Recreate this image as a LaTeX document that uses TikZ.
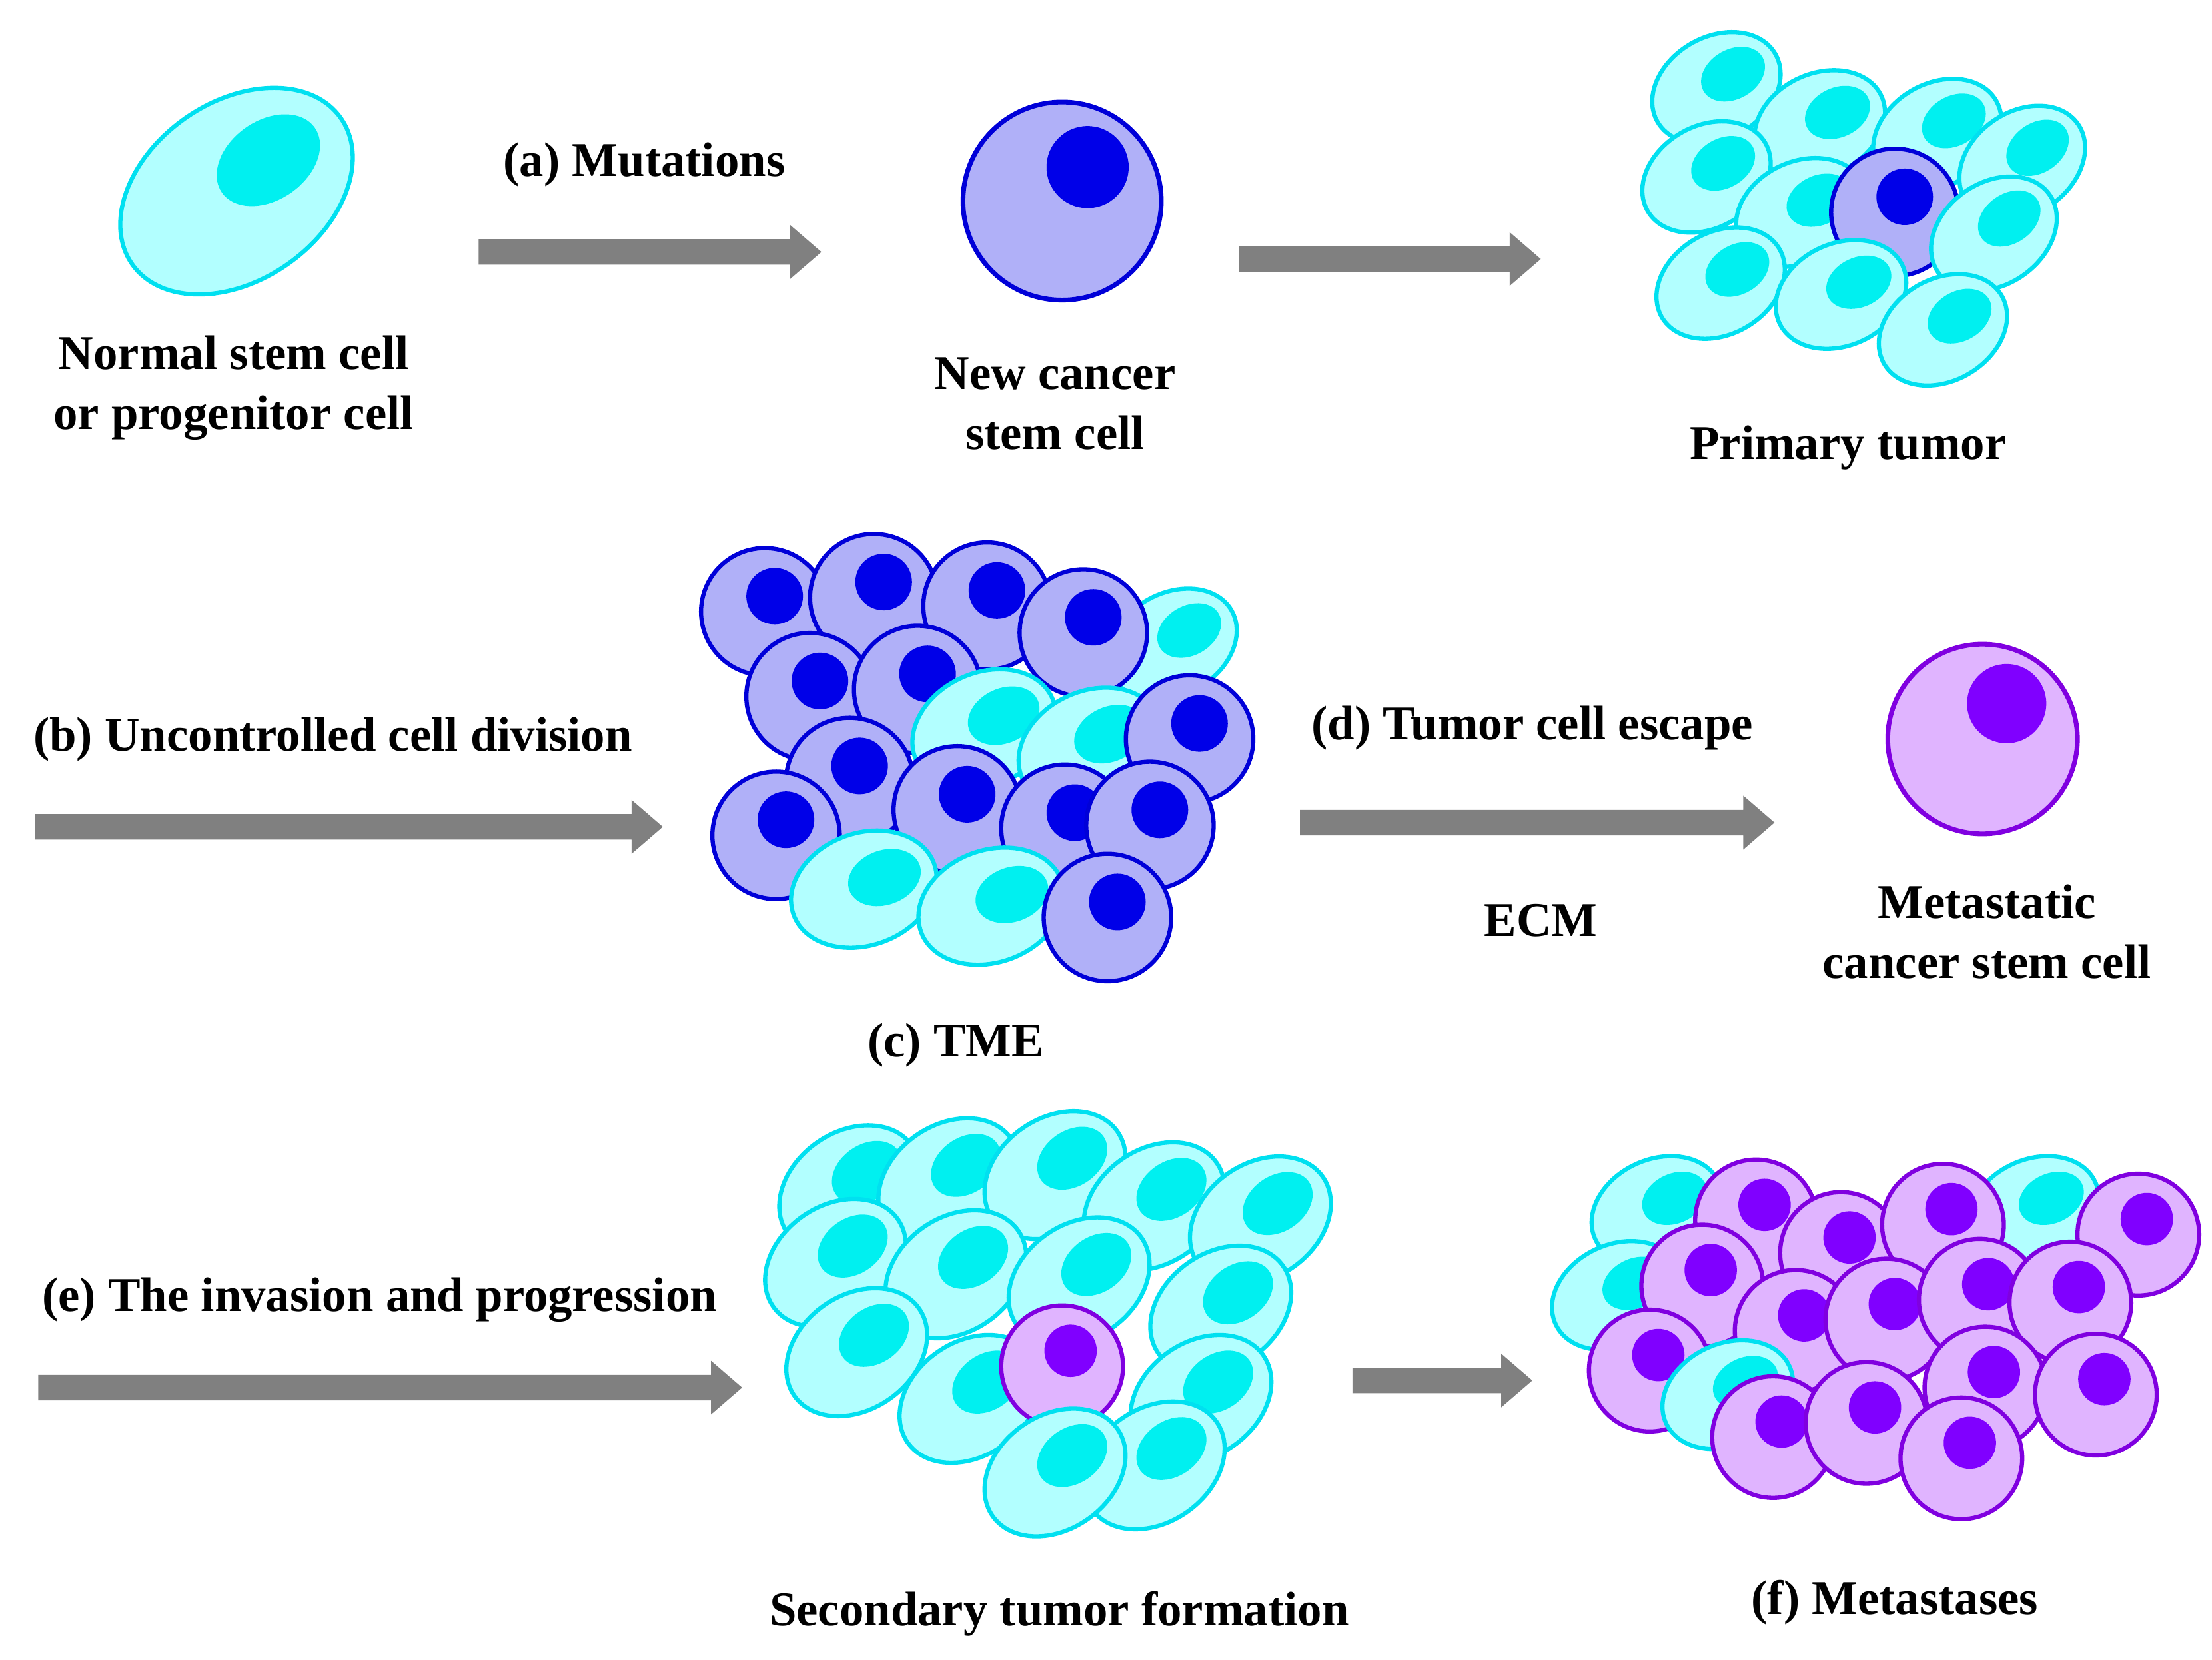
\documentclass[tikz,border=0pt]{standalone}
\usepackage{fontspec}
\setmainfont{Liberation Serif}
\definecolor{cfill}{HTML}{B2FFFF}\definecolor{cline}{HTML}{00E0F0}\definecolor{cnuc}{HTML}{00F0F0}
\definecolor{bfill}{HTML}{B0B0F8}\definecolor{bline}{HTML}{0000D8}\definecolor{bnuc}{HTML}{0000E8}
\definecolor{pfill}{HTML}{E0B4FF}\definecolor{pline}{HTML}{8000E0}\definecolor{pnuc}{HTML}{8000FF}
\definecolor{arr}{HTML}{808080}
\newcommand{\ccell}[4][1]{\begin{scope}[shift={(#2,#3)},rotate=#4,scale=#1]
 \draw[line width=1.7pt,draw=cline,fill=cfill] (0,0) ellipse [x radius=0.96cm,y radius=0.72cm];
 \fill[cnuc] (0.3cm,0.05cm) ellipse [x radius=0.48cm,y radius=0.35cm];\end{scope}}
\newcommand{\bcell}[2]{\begin{scope}[shift={(#1,#2)}]
 \draw[line width=1.7pt,draw=bline,fill=bfill] (0,0) circle (0.9cm);
 \fill[bnuc] (0.14cm,0.22cm) circle (0.4cm);\end{scope}}
\newcommand{\pcell}[2]{\begin{scope}[shift={(#1,#2)}]
 \draw[line width=1.7pt,draw=pline,fill=pfill] (0,0) circle (0.86cm);
 \fill[pnuc] (0.12cm,0.22cm) circle (0.37cm);\end{scope}}
\newcommand{\garrow}[3]{\fill[arr] (#1,#3-9) -- (#2-22,#3-9) -- (#2-22,#3-19) -- (#2,#3) -- (#2-22,#3+19) -- (#2-22,#3+9) -- (#1,#3+9) -- cycle;}
\tikzset{lbl/.style={font=\fontsize{19.5}{24}\selectfont\bfseries,align=center}}
\begin{document}
\begin{tikzpicture}[x=0.02cm,y=-0.02cm]
\useasboundingbox[fill=white] (0,0) rectangle (1562,1172);
% row 1
\begin{scope}[shift={(167,135)},rotate=35]
 \draw[line width=1.7pt,draw=cline,fill=cfill] (0,0) ellipse [x radius=1.8cm,y radius=1.26cm];
 \fill[cnuc] (0.62cm,0.1cm) ellipse [x radius=0.8cm,y radius=0.56cm];\end{scope}
\node[lbl] (t1) at (165,274) {Normal stem cell\\or progenitor cell};
\node[lbl] (ta) at (455,116) {(a) Mutations};
\garrow{338}{580}{178}
\draw[line width=1.9pt,draw=bline,fill=bfill] (750,142) circle (1.4cm);
\fill[bnuc] (768,118) circle (0.58cm);
\node[lbl] (t2) at (745,285) {New cancer\\stem cell};
\garrow{875}{1088}{183}
\ccell{1212}{62}{30}\ccell{1285}{88}{25}\ccell{1368}{95}{30}\ccell{1428}{115}{35}
\ccell{1205}{125}{30}\ccell{1272}{150}{25}
\bcell{1338}{150}
\ccell{1408}{165}{35}\ccell{1215}{200}{30}\ccell{1300}{208}{25}\ccell{1372}{233}{30}
\node[lbl] (t3) at (1305,316) {Primary tumor};
% row 2
\node[lbl] (tb) at (235,522) {(b) Uncontrolled cell division};
\garrow{25}{468}{584}
\ccell{828}{455}{30}
\bcell{540}{432}\bcell{617}{422}\bcell{697}{428}\bcell{765}{447}
\bcell{572}{492}\bcell{648}{487}
\ccell[1.1]{695}{515}{25}\ccell[1.1]{770}{528}{25}\bcell{840}{522}
\bcell{600}{552}\bcell{548}{590}\bcell{676}{572}\bcell{752}{585}\bcell{812}{583}
\ccell[1.1]{610}{628}{20}\ccell[1.1]{700}{640}{20}\bcell{782}{648}
\node[lbl] (tc) at (675,738) {(c) TME};
\node[lbl] (td) at (1082,514) {(d) Tumor cell escape};
\garrow{918}{1253}{581}
\node[lbl] (te2) at (1088,650) {ECM};
\draw[line width=1.9pt,draw=pline,fill=pfill] (1400,522) circle (1.34cm);
\fill[pnuc] (1417,497) circle (0.56cm);
\node[lbl] (t4) at (1403,658) {Metastatic\\cancer stem cell};
% row 3
\node[lbl] (te) at (268,918) {(e) The invasion and progression};
\garrow{27}{524}{980}
\ccell[1.12]{600}{840}{35}\ccell[1.12]{670}{835}{35}\ccell[1.12]{745}{830}{35}\ccell[1.12]{815}{852}{35}\ccell[1.12]{890}{862}{35}
\ccell[1.12]{590}{892}{35}\ccell[1.12]{675}{900}{35}\ccell[1.12]{762}{905}{35}\ccell[1.12]{862}{925}{35}
\ccell[1.12]{605}{955}{35}\ccell[1.12]{685}{988}{35}
\pcell{750}{965}
\ccell[1.12]{848}{988}{35}\ccell[1.12]{815}{1035}{35}\ccell[1.12]{745}{1040}{35}
\node[lbl] (tf) at (748,1140) {Secondary tumor formation};
\garrow{955}{1082}{975}
\ccell{1170}{855}{25}\ccell{1436}{855}{25}\ccell{1142}{915}{25}
\pcell{1240}{862}\pcell{1300}{885}\pcell{1372}{865}\pcell{1510}{872}
\pcell{1202}{908}\pcell{1268}{940}\pcell{1332}{932}\pcell{1398}{918}\pcell{1462}{920}
\pcell{1165}{968}\ccell{1220}{985}{25}\pcell{1402}{980}\pcell{1480}{985}
\pcell{1252}{1015}\pcell{1318}{1005}\pcell{1385}{1030}
\node[lbl] (tm) at (1338,1132) {(f) Metastases};
\end{tikzpicture}
\end{document}
